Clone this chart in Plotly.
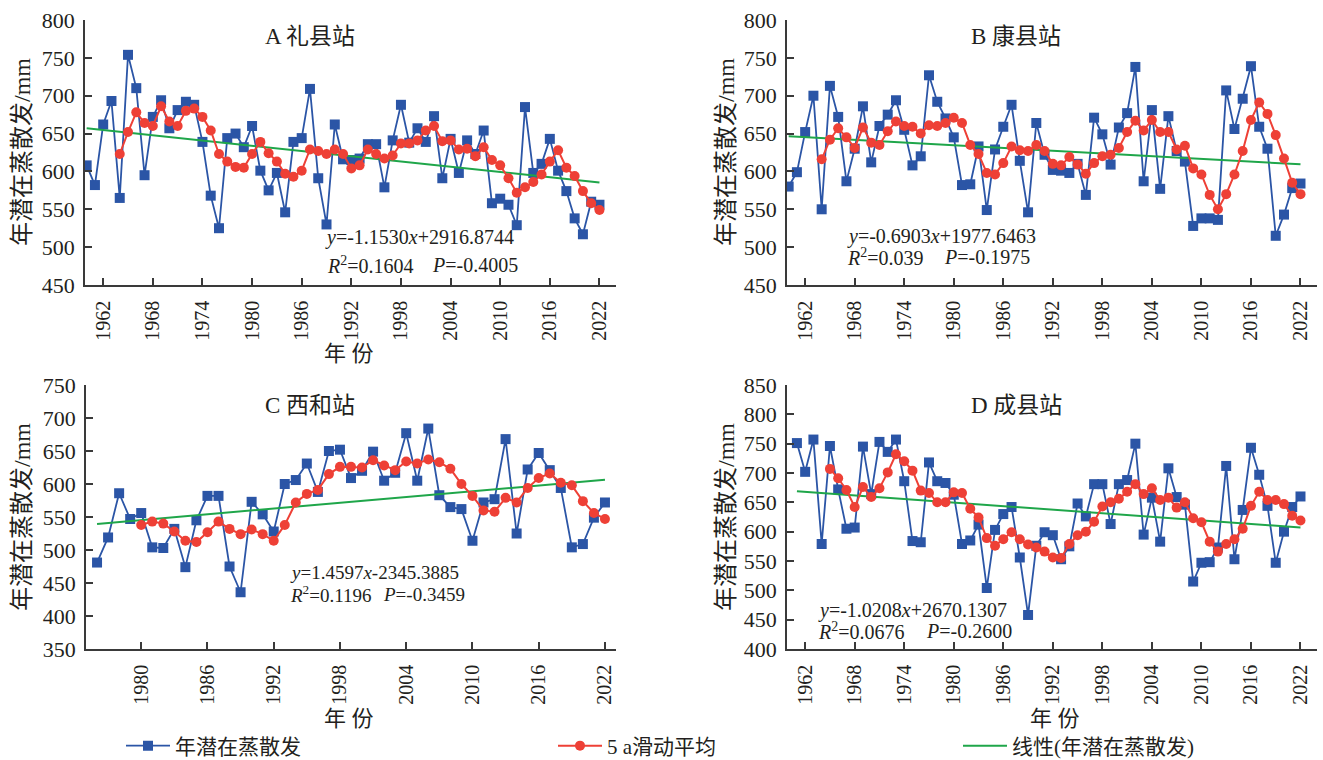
import plotly.graph_objects as go

# ---------------- data ----------------
years_A = list(range(1960, 2023))
pet_A = [608, 582, 662, 693, 565, 754, 710, 595, 672, 694,
         657, 681, 692, 688, 639, 568, 525, 644, 650, 632,
         660, 601, 575, 598, 546, 639, 644, 709, 591, 530,
         662, 616, 615, 617, 636, 636, 579, 641, 688, 638,
         657, 639, 673, 591, 643, 598, 641, 623, 654, 558,
         564, 556, 529, 685, 598, 610, 643, 601, 574, 538,
         517, 560, 556]
ma_years_A = list(range(1964, 2023))
ma_A = [623, 652, 678, 664, 660, 686, 666, 660, 680, 683,
        672, 654, 623, 613, 606, 605, 623, 639, 624, 613,
        597, 593, 601, 629, 627, 623, 629, 623, 604, 608,
        629, 623, 617, 621, 637, 637, 641, 654, 660, 640,
        641, 629, 630, 620, 632, 615, 608, 591, 572, 579,
        586, 596, 613, 628, 605, 594, 574, 558, 549]
trend_years_A = [1960, 2022]
trend_A = [657.0, 585.5]

years_B = list(range(1960, 2023))
pet_B = [580, 599, 652, 700, 550, 713, 672, 587, 630, 686,
         612, 660, 675, 694, 655, 608, 620, 727, 692, 670,
         645, 582, 583, 633, 549, 629, 659, 688, 614, 546,
         664, 622, 602, 601, 598, 610, 569, 671, 649, 609,
         658, 677, 738, 587, 681, 577, 673, 627, 613, 528,
         538, 538, 536, 707, 656, 696, 739, 659, 630, 515,
         543, 578, 584]
ma_years_B = list(range(1964, 2023))
ma_B = [616, 642, 657, 645, 631, 658, 638, 635, 653, 666,
        660, 659, 650, 661, 660, 664, 671, 664, 635, 623,
        598, 596, 611, 633, 628, 627, 635, 627, 610, 608,
        619, 609, 597, 611, 620, 622, 631, 652, 667, 654,
        668, 652, 652, 629, 634, 604, 596, 569, 550, 570,
        596, 627, 668, 691, 676, 648, 617, 585, 570]
trend_years_B = [1960, 2022]
trend_B = [646.5, 609.4]

years_C = list(range(1976, 2023))
pet_C = [481, 519, 586, 547, 556, 504, 503, 532, 474, 545,
         582, 582, 475, 436, 573, 554, 528, 600, 606, 631,
         588, 650, 652, 609, 620, 649, 605, 617, 677, 605,
         684, 583, 565, 562, 514, 572, 577, 668, 525, 622,
         647, 621, 594, 504, 509, 549, 572]
ma_years_C = list(range(1980, 2023))
ma_C = [538, 543, 540, 528, 514, 512, 527, 543, 532, 524,
        531, 524, 514, 538, 572, 585, 591, 615, 626, 626,
        625, 636, 628, 621, 634, 631, 637, 633, 623, 600,
        582, 560, 558, 579, 572, 594, 609, 616, 602, 598,
        574, 556, 547]
trend_years_C = [1976, 2022]
trend_C = [539.5, 606.5]

years_D = list(range(1961, 2023))
pet_D = [751, 702, 757, 579, 746, 672, 605, 607, 745, 664,
         753, 736, 757, 686, 584, 582, 718, 686, 683, 663,
         579, 585, 612, 504, 603, 630, 642, 556, 458, 576,
         599, 594, 553, 575, 648, 626, 681, 681, 613, 681,
         688, 750, 595, 658, 583, 708, 659, 646, 515, 547,
         548, 573, 712, 553, 637, 743, 697, 644, 547, 600,
         642, 660]
ma_years_D = list(range(1965, 2023))
ma_D = [707, 691, 671, 642, 676, 659, 674, 701, 732, 720,
        704, 670, 666, 650, 650, 667, 666, 639, 624, 589,
        576, 587, 599, 587, 578, 573, 566, 556, 555, 579,
        594, 600, 617, 643, 650, 656, 668, 681, 664, 674,
        654, 658, 641, 650, 623, 616, 583, 566, 579, 587,
        605, 644, 668, 654, 654, 647, 627, 619]
trend_years_D = [1961, 2022]
trend_D = [669.0, 607.0]

ticks_long = [1962, 1968, 1974, 1980, 1986, 1992, 1998, 2004, 2010, 2016, 2022]
ticks_C = [1980, 1986, 1992, 1998, 2004, 2010, 2016, 2022]

titles = ["A 礼县站", "B 康县站", "C 西和站", "D 成县站"]
eq1 = ["<i>y</i>=-1.1530<i>x</i>+2916.8744", "<i>y</i>=-0.6903<i>x</i>+1977.6463",
       "<i>y</i>=1.4597<i>x</i>-2345.3885", "<i>y</i>=-1.0208<i>x</i>+2670.1307"]
eq_r2 = ["<i>R</i><sup>2</sup>=0.1604", "<i>R</i><sup>2</sup>=0.039",
         "<i>R</i><sup>2</sup>=0.1196", "<i>R</i><sup>2</sup>=0.0676"]
eq_p = ["<i>P</i>=-0.4005", "<i>P</i>=-0.1975", "<i>P</i>=-0.3459", "<i>P</i>=-0.2600"]

name_pet = "年潜在蒸散发"
name_ma = "5 a滑动平均"
name_tr = "线性(年潜在蒸散发)"
ytitle = "年潜在蒸散发/mm"
xtitle = "年 份"

# ---------------- styling / layout ----------------
W, H = 1323, 760
BLUE = "#2B55A6"
RED = "#EE4036"
GREEN = "#1FA64A"
AX = "#3a3a3a"
TXT = "#231F20"
SERIF = "Liberation Serif, Noto Sans CJK SC"
CJK = "Liberation Serif, Noto Sans CJK SC"

def fx(p):
    return p / W

def fy(p):
    return 1 - p / H

panels = [
    dict(years=years_A, pet=pet_A, my=ma_years_A, ma=ma_A, ty=trend_years_A, tr=trend_A,
         xd=(85, 616), yd=(20, 285), xr=(1959.8, 2024.0), yr=(450, 800), dt=50, tv=ticks_long),
    dict(years=years_B, pet=pet_B, my=ma_years_B, ma=ma_B, ty=trend_years_B, tr=trend_B,
         xd=(787, 1317), yd=(20, 285), xr=(1959.8, 2024.0), yr=(450, 800), dt=50, tv=ticks_long),
    dict(years=years_C, pet=pet_C, my=ma_years_C, ma=ma_C, ty=trend_years_C, tr=trend_C,
         xd=(86, 616), yd=(385, 649), xr=(1975.0, 2023.0), yr=(350, 750), dt=50, tv=ticks_C),
    dict(years=years_D, pet=pet_D, my=ma_years_D, ma=ma_D, ty=trend_years_D, tr=trend_D,
         xd=(787, 1317), yd=(385, 649), xr=(1959.8, 2024.0), yr=(400, 850), dt=50, tv=ticks_long),
]

fig = go.Figure()
layout = dict(width=W, height=H, margin=dict(l=0, r=0, t=0, b=0, autoexpand=False),
              paper_bgcolor="white", plot_bgcolor="white",
              font=dict(family=SERIF, color=TXT))

for i, p in enumerate(panels):
    k = "" if i == 0 else str(i + 1)
    xa, ya = "x" + k, "y" + k
    first = (i == 0)
    fig.add_trace(go.Scatter(x=p["years"], y=p["pet"], mode="lines+markers", name=name_pet,
                             line=dict(color=BLUE, width=1.8),
                             marker=dict(symbol="square", size=10, color=BLUE),
                             xaxis=xa, yaxis=ya, showlegend=first, legend="legend"))
    fig.add_trace(go.Scatter(x=p["ty"], y=p["tr"], mode="lines", name=name_tr,
                             line=dict(color=GREEN, width=2),
                             xaxis=xa, yaxis=ya, showlegend=first, legend="legend3"))
    fig.add_trace(go.Scatter(x=p["my"], y=p["ma"], mode="lines+markers", name=name_ma,
                             line=dict(color=RED, width=2),
                             marker=dict(symbol="circle", size=10, color=RED),
                             xaxis=xa, yaxis=ya, showlegend=first, legend="legend2"))
    layout["xaxis" + k] = dict(domain=[fx(p["xd"][0]), fx(p["xd"][1])], anchor=ya,
                               range=list(p["xr"]), tickmode="array", tickvals=p["tv"],
                               tickangle=-90, ticks="inside", ticklen=7, tickwidth=1.5,
                               tickcolor=AX, showline=True, linecolor=AX, linewidth=1.6,
                               showgrid=False, zeroline=False,
                               tickfont=dict(family=SERIF, size=20, color=TXT),
                               ticklabelstandoff=6)
    layout["yaxis" + k] = dict(domain=[fy(p["yd"][1]), fy(p["yd"][0])], anchor=xa,
                               range=list(p["yr"]), dtick=p["dt"], tick0=0,
                               ticks="inside", ticklen=7, tickwidth=1.5, tickcolor=AX,
                               showline=True, linecolor=AX, linewidth=1.6,
                               showgrid=False, zeroline=False,
                               tickfont=dict(family=SERIF, size=22, color=TXT),
                               ticklabelstandoff=4)

ann = []
# panel titles
for t, (cx, cy) in zip(titles, [(310, 37), (1016, 37), (310, 405), (1016, 405)]):
    ann.append(dict(text=t, x=fx(cx), y=fy(cy), xref="paper", yref="paper",
                    showarrow=False, xanchor="center", yanchor="middle",
                    font=dict(family=CJK, size=23, color=TXT)))
# equations: (x line1, y line1, x R2, x P, y line2, font size)
eqpos = [(323, 238, 325, 430, 265, 20), (845, 236, 845, 942, 257, 20),
         (288, 572, 288, 381, 594, 19), (816, 610, 816, 924, 631, 20)]
for i, (x1, y1, xr2, xp, y2, fs) in enumerate(eqpos):
    ann.append(dict(text=eq1[i], x=fx(x1), y=fy(y1), xref="paper", yref="paper",
                    showarrow=False, xanchor="left", yanchor="middle",
                    font=dict(family=SERIF, size=fs, color=TXT)))
    ann.append(dict(text=eq_r2[i], x=fx(xr2), y=fy(y2), xref="paper", yref="paper",
                    showarrow=False, xanchor="left", yanchor="middle",
                    font=dict(family=SERIF, size=fs, color=TXT)))
    ann.append(dict(text=eq_p[i], x=fx(xp), y=fy(y2), xref="paper", yref="paper",
                    showarrow=False, xanchor="left", yanchor="middle",
                    font=dict(family=SERIF, size=fs, color=TXT)))
# y titles
for (cx, cy) in [(22, 152), (726, 152), (22, 517), (726, 517)]:
    ann.append(dict(text=ytitle, x=fx(cx), y=fy(cy), xref="paper", yref="paper",
                    showarrow=False, xanchor="center", yanchor="middle", textangle=-90,
                    font=dict(family=CJK, size=24, color=TXT)))
# x titles
for (cx, cy) in [(349, 353), (349, 718), (1055, 718)]:
    ann.append(dict(text=xtitle, x=fx(cx), y=fy(cy), xref="paper", yref="paper",
                    showarrow=False, xanchor="center", yanchor="middle",
                    font=dict(family=CJK, size=22, color=TXT)))
layout["annotations"] = ann

legfont = dict(family=CJK, size=21, color=TXT)
layout["legend"] = dict(x=fx(121), y=fy(746), xanchor="left", yanchor="middle",
                        orientation="h", font=legfont, bgcolor="rgba(0,0,0,0)",
                        itemwidth=44)
layout["legend2"] = dict(x=fx(553), y=fy(746), xanchor="left", yanchor="middle",
                         orientation="h", font=legfont, bgcolor="rgba(0,0,0,0)",
                         itemwidth=44)
layout["legend3"] = dict(x=fx(958), y=fy(746), xanchor="left", yanchor="middle",
                         orientation="h", font=legfont, bgcolor="rgba(0,0,0,0)",
                         itemwidth=44)

fig.update_layout(**layout)
fig.write_html("out.html", config={"displayModeBar": False},
               post_script="document.body.style.margin='0px';document.body.style.padding='0px';")
